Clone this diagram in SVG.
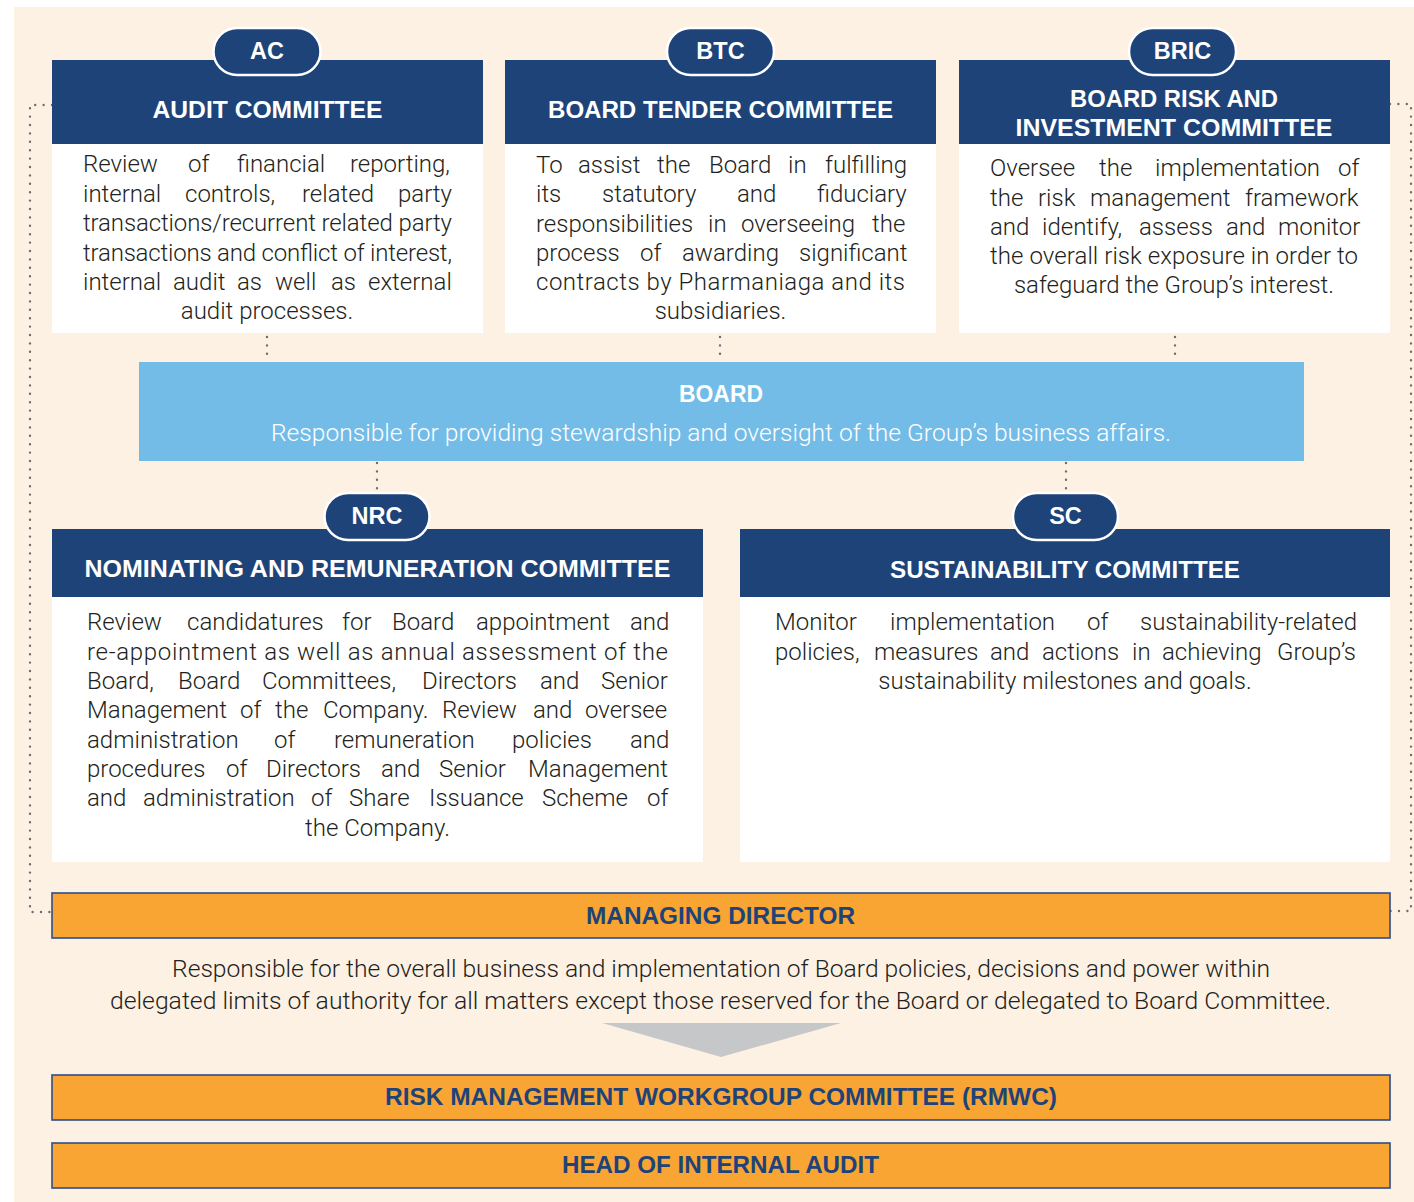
<svg xmlns="http://www.w3.org/2000/svg" width="1414" height="1202" viewBox="0 0 1414 1202">
  <style>
    .hdr { fill: #1E4379; }
    .panel { fill: #FFFFFF; }
    .pill { fill: #1E4379; stroke: #FFFFFF; stroke-width: 2.5; }
    .ht { font-family: "Liberation Sans", Arial, sans-serif; font-weight: 700; font-size: 23.5px; fill: #FFFFFF; text-anchor: middle; }
    .bt { font-family: Roboto, "Liberation Sans", Arial, sans-serif; font-weight: 300; font-size: 24px; fill: #231F20; }
    .c { text-anchor: middle; }
    .bar { fill: #F9A533; stroke: #2E4D8C; stroke-width: 1.6; }
    .bart { font-family: "Liberation Sans", Arial, sans-serif; font-weight: 700; font-size: 23.5px; fill: #1E4379; text-anchor: middle; }
    .dot { fill: none; stroke: #6D6E71; stroke-width: 2.4; stroke-linecap: round; stroke-dasharray: 0 8.4; }
  </style>

  <!-- page background -->
  <rect x="0" y="0" width="1414" height="1202" fill="#FFFFFF"/>
  <rect x="14" y="7" width="1400" height="1195" fill="#FDF1E4"/>

  <!-- dotted reporting lines -->
  <g id="connectors">
    <path class="dot" d="M52,105 H30 V912 H52"/>
    <path class="dot" d="M1390,104 H1411 V911 H1390"/>
    <path class="dot" d="M267,337 V361"/>
    <path class="dot" d="M720,337 V361"/>
    <path class="dot" d="M1175,337 V361"/>
    <path class="dot" d="M377,463 V489"/>
    <path class="dot" d="M1066,463 V489"/>
  </g>

  <!-- Audit Committee -->
  <g id="ac">
    <rect class="panel" x="52" y="144" width="431" height="189"/>
    <rect class="hdr" x="52" y="60" width="431" height="84"/>
    <rect class="pill" x="213.5" y="28" width="107" height="47" rx="23.5"/>
    <text class="ht" x="267" y="59">AC</text>
    <text class="ht" x="267.5" y="118" textLength="230" lengthAdjust="spacingAndGlyphs">AUDIT COMMITTEE</text>
    <text class="bt" y="172"><tspan x="83">Review</tspan><tspan x="188">of</tspan><tspan x="237">financial</tspan><tspan x="350">reporting,</tspan></text>
    <text class="bt" y="201.5"><tspan x="83">internal</tspan><tspan x="185">controls,</tspan><tspan x="302">related</tspan><tspan x="398">party</tspan></text>
    <text class="bt" x="83" y="231" textLength="369" lengthAdjust="spacing">transactions/recurrent related party</text>
    <text class="bt" x="83" y="260.5" textLength="369" lengthAdjust="spacing">transactions and conflict of interest,</text>
    <text class="bt" y="290"><tspan x="83">internal</tspan><tspan x="173">audit</tspan><tspan x="237">as</tspan><tspan x="275">well</tspan><tspan x="331">as</tspan><tspan x="368">external</tspan></text>
    <text class="bt c" x="267" y="319">audit processes.</text>
  </g>

  <!-- Board Tender Committee -->
  <g id="btc">
    <rect class="panel" x="505" y="144" width="431" height="189"/>
    <rect class="hdr" x="505" y="60" width="431" height="84"/>
    <rect class="pill" x="667" y="28" width="107" height="47" rx="23.5"/>
    <text class="ht" x="720.5" y="59">BTC</text>
    <text class="ht" x="720.5" y="118" textLength="345" lengthAdjust="spacingAndGlyphs">BOARD TENDER COMMITTEE</text>
    <text class="bt" y="172.5"><tspan x="536">To</tspan><tspan x="578">assist</tspan><tspan x="657">the</tspan><tspan x="709">Board</tspan><tspan x="788">in</tspan><tspan x="825">fulfilling</tspan></text>
    <text class="bt" y="202"><tspan x="536">its</tspan><tspan x="602">statutory</tspan><tspan x="737">and</tspan><tspan x="817">fiduciary</tspan></text>
    <text class="bt" y="231.5"><tspan x="536">responsibilities</tspan><tspan x="708">in</tspan><tspan x="741">overseeing</tspan><tspan x="872">the</tspan></text>
    <text class="bt" y="261"><tspan x="536">process</tspan><tspan x="640">of</tspan><tspan x="682">awarding</tspan><tspan x="799">significant</tspan></text>
    <text class="bt" x="536" y="290" textLength="369" lengthAdjust="spacing">contracts by Pharmaniaga and its</text>
    <text class="bt c" x="720.5" y="319">subsidiaries.</text>
  </g>

  <!-- Board Risk and Investment Committee -->
  <g id="bric">
    <rect class="panel" x="959" y="144" width="431" height="189"/>
    <rect class="hdr" x="959" y="60" width="431" height="84"/>
    <rect class="pill" x="1129" y="28" width="107" height="47" rx="23.5"/>
    <text class="ht" x="1182.5" y="59">BRIC</text>
    <text class="ht" x="1174" y="107" textLength="208" lengthAdjust="spacingAndGlyphs">BOARD RISK AND</text>
    <text class="ht" x="1174" y="136" textLength="317" lengthAdjust="spacingAndGlyphs">INVESTMENT COMMITTEE</text>
    <text class="bt" y="176"><tspan x="990">Oversee</tspan><tspan x="1099">the</tspan><tspan x="1155">implementation</tspan><tspan x="1338">of</tspan></text>
    <text class="bt" y="205.5"><tspan x="990">the</tspan><tspan x="1038">risk</tspan><tspan x="1090">management</tspan><tspan x="1245">framework</tspan></text>
    <text class="bt" y="235"><tspan x="990">and</tspan><tspan x="1042">identify,</tspan><tspan x="1139">assess</tspan><tspan x="1226">and</tspan><tspan x="1278">monitor</tspan></text>
    <text class="bt" x="990" y="264" textLength="368" lengthAdjust="spacing">the overall risk exposure in order to</text>
    <text class="bt c" x="1174" y="293">safeguard the Group’s interest.</text>
  </g>

  <!-- Board -->
  <g id="board">
    <rect x="139" y="362" width="1165" height="99" fill="#74BCE8"/>
    <text class="ht" x="721" y="402" textLength="84" lengthAdjust="spacingAndGlyphs">BOARD</text>
    <text x="721" y="441" font-family="Roboto, 'Liberation Sans', Arial, sans-serif" font-weight="300" font-size="24.5" fill="#FFFFFF" text-anchor="middle" textLength="900" lengthAdjust="spacingAndGlyphs">Responsible for providing stewardship and oversight of the Group’s business affairs.</text>
  </g>

  <!-- Nominating and Remuneration Committee -->
  <g id="nrc">
    <rect class="panel" x="52" y="597" width="651" height="265"/>
    <rect class="hdr" x="52" y="529" width="651" height="68"/>
    <rect class="pill" x="324.5" y="493" width="105" height="47" rx="23.5"/>
    <text class="ht" x="377" y="524">NRC</text>
    <text class="ht" x="377.5" y="577" textLength="586" lengthAdjust="spacingAndGlyphs">NOMINATING AND REMUNERATION COMMITTEE</text>
    <text class="bt" y="630"><tspan x="87">Review</tspan><tspan x="187">candidatures</tspan><tspan x="342">for</tspan><tspan x="392">Board</tspan><tspan x="476">appointment</tspan><tspan x="630">and</tspan></text>
    <text class="bt" x="87" y="659.5" textLength="581" lengthAdjust="spacing">re-appointment as well as annual assessment of the</text>
    <text class="bt" y="689"><tspan x="87">Board,</tspan><tspan x="178">Board</tspan><tspan x="262">Committees,</tspan><tspan x="422">Directors</tspan><tspan x="540">and</tspan><tspan x="601">Senior</tspan></text>
    <text class="bt" y="718"><tspan x="87">Management</tspan><tspan x="240">of</tspan><tspan x="275">the</tspan><tspan x="323">Company.</tspan><tspan x="442">Review</tspan><tspan x="533">and</tspan><tspan x="585">oversee</tspan></text>
    <text class="bt" y="747.5"><tspan x="87">administration</tspan><tspan x="274">of</tspan><tspan x="334">remuneration</tspan><tspan x="512">policies</tspan><tspan x="630">and</tspan></text>
    <text class="bt" y="777"><tspan x="87">procedures</tspan><tspan x="226">of</tspan><tspan x="266">Directors</tspan><tspan x="381">and</tspan><tspan x="439">Senior</tspan><tspan x="528">Management</tspan></text>
    <text class="bt" y="806"><tspan x="87">and</tspan><tspan x="143">administration</tspan><tspan x="311">of</tspan><tspan x="349">Share</tspan><tspan x="429">Issuance</tspan><tspan x="542">Scheme</tspan><tspan x="647">of</tspan></text>
    <text class="bt c" x="377.5" y="835.5">the Company.</text>
  </g>

  <!-- Sustainability Committee -->
  <g id="sc">
    <rect class="panel" x="740" y="597" width="650" height="265"/>
    <rect class="hdr" x="740" y="529" width="650" height="68"/>
    <rect class="pill" x="1013" y="493" width="105" height="47" rx="23.5"/>
    <text class="ht" x="1065.5" y="524">SC</text>
    <text class="ht" x="1065" y="578" textLength="350" lengthAdjust="spacingAndGlyphs">SUSTAINABILITY COMMITTEE</text>
    <text class="bt" y="630"><tspan x="775">Monitor</tspan><tspan x="890">implementation</tspan><tspan x="1087">of</tspan><tspan x="1140">sustainability-related</tspan></text>
    <text class="bt" y="659.5"><tspan x="775">policies,</tspan><tspan x="874">measures</tspan><tspan x="990">and</tspan><tspan x="1042">actions</tspan><tspan x="1132">in</tspan><tspan x="1162">achieving</tspan><tspan x="1277">Group’s</tspan></text>
    <text class="bt c" x="1065" y="689">sustainability milestones and goals.</text>
  </g>

  <!-- Managing Director -->
  <g id="md">
    <rect class="bar" x="52" y="893" width="1338" height="45"/>
    <text class="bart" x="720.5" y="924" textLength="269" lengthAdjust="spacingAndGlyphs">MANAGING DIRECTOR</text>
    <text class="bt c" x="721" y="977" textLength="1098" lengthAdjust="spacingAndGlyphs">Responsible for the overall business and implementation of Board policies, decisions and power within</text>
    <text class="bt c" x="720.5" y="1009" textLength="1221" lengthAdjust="spacingAndGlyphs">delegated limits of authority for all matters except those reserved for the Board or delegated to Board Committee.</text>
  </g>

  <!-- downward pointer -->
  <polygon points="602,1023 841,1023 721,1057" fill="#C6C7C9"/>

  <!-- Risk Management Workgroup Committee -->
  <g id="rmwc">
    <rect class="bar" x="52" y="1075" width="1338" height="45"/>
    <text class="bart" x="721" y="1105" textLength="672" lengthAdjust="spacingAndGlyphs">RISK MANAGEMENT WORKGROUP COMMITTEE (RMWC)</text>
  </g>

  <!-- Head of Internal Audit -->
  <g id="hia">
    <rect class="bar" x="52" y="1143" width="1338" height="45"/>
    <text class="bart" x="720.5" y="1173" textLength="317" lengthAdjust="spacingAndGlyphs">HEAD OF INTERNAL AUDIT</text>
  </g>
</svg>
